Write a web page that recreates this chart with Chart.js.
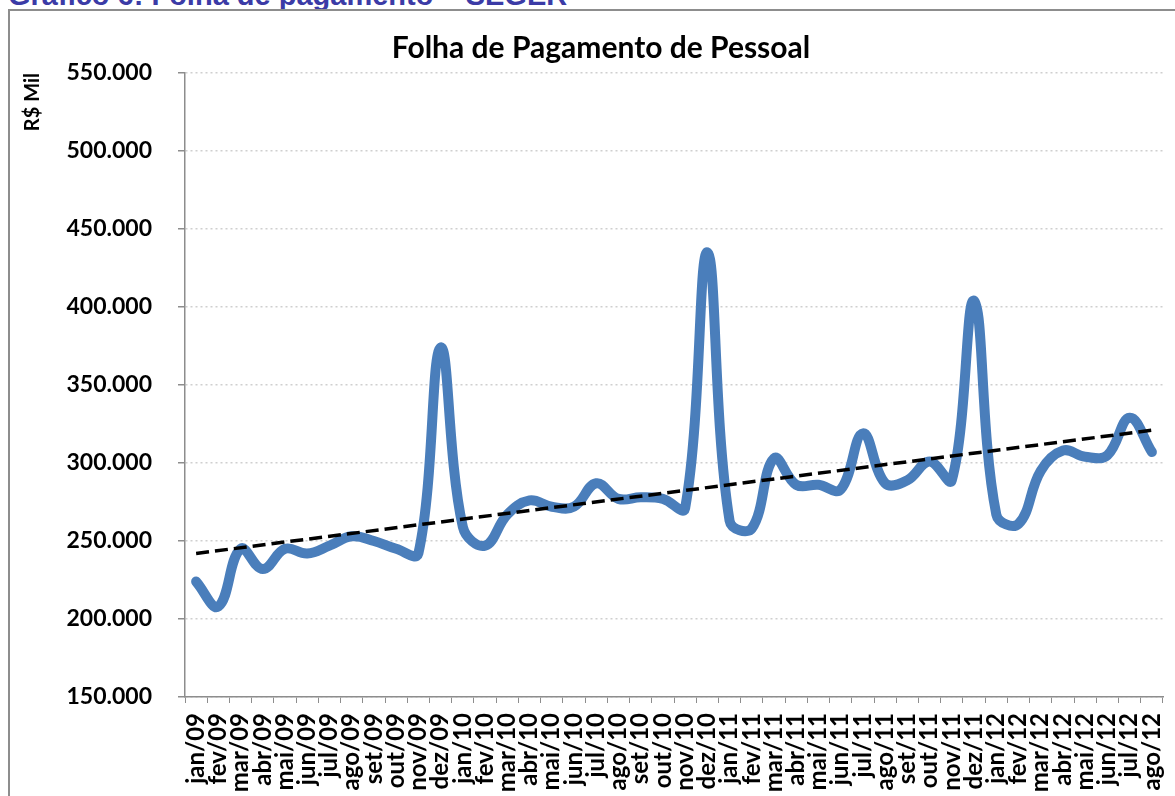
<!DOCTYPE html>
<html lang="pt-BR">
<head>
<meta charset="utf-8">
<title>Folha de Pagamento de Pessoal</title>
<script src="https://cdn.jsdelivr.net/npm/chart.js@4.4.1/dist/chart.umd.min.js"></script>
<style>
    html, body { margin: 0; padding: 0; background: #fff; overflow: hidden; }
    #caption {
        position: absolute; left: 8px; top: -19px;
        font: bold 29px "Liberation Sans", Arial, sans-serif;
        line-height: 28px; color: #3b3ba6; white-space: nowrap;
    }
    #frame {
        position: absolute; left: 8px; top: 9px;
        width: 1220px; height: 840px;
        border: 2px solid #8d8d8d;
    }
    #wrap { position: absolute; left: 0; top: 0; width: 1175px; height: 796px; }
</style>
</head>
<body>
<div id="caption">Gráfico 6: Folha de pagamento – SEGER</div>
<div id="frame"></div>
<div id="wrap"><canvas id="folhaChart" width="1175" height="796"></canvas></div>

<script>
// meses (jan/09 .. ago/12)
const meses = [
    'jan/09', 'fev/09', 'mar/09', 'abr/09', 'mai/09', 'jun/09', 'jul/09', 'ago/09', 'set/09', 'out/09', 'nov/09', 'dez/09',
    'jan/10', 'fev/10', 'mar/10', 'abr/10', 'mai/10', 'jun/10', 'jul/10', 'ago/10', 'set/10', 'out/10', 'nov/10', 'dez/10',
    'jan/11', 'fev/11', 'mar/11', 'abr/11', 'mai/11', 'jun/11', 'jul/11', 'ago/11', 'set/11', 'out/11', 'nov/11', 'dez/11',
    'jan/12', 'fev/12', 'mar/12', 'abr/12', 'mai/12', 'jun/12', 'jul/12', 'ago/12'
];

// folha de pagamento, R$ mil
const folha = [
    224000, 208000, 245000, 232000, 245000, 242000, 247000, 253000, 250000, 245000, 242000, 374000,
    259000, 247000, 267000, 276000, 272000, 272000, 287000, 277000, 278000, 277000, 271000, 435000,
    263000, 258000, 303000, 286000, 286000, 283000, 319000, 287000, 289000, 301000, 289000, 404000,
    267000, 261000, 295000, 308000, 304000, 305000, 329000, 307000
];

// linha de tendencia: valor no primeiro e no ultimo mes
const tendencia = [242000, 321000];

// eixo Y
const yMin = 150000;
const yMax = 550000;
const yStep = 50000;

const FONT = 'Lato, "Open Sans", sans-serif';

const trendData = meses.map((m, i) => {
    if (i === 0) return tendencia[0];
    if (i === meses.length - 1) return tendencia[1];
    return null;
});

// titulo desenhado a mao (centrado na caixa do grafico original)
const titlePlugin = {
    id: 'tituloFolha',
    afterDraw(chart) {
        const ctx = chart.ctx;
        ctx.save();
        ctx.font = 'bold 30px ' + FONT;
        ctx.fillStyle = '#000';
        ctx.textAlign = 'center';
        ctx.textBaseline = 'middle';
        ctx.fillText('Folha de Pagamento de Pessoal', 601, 48);
        ctx.restore();
    }
};

new Chart(document.getElementById('folhaChart').getContext('2d'), {
    type: 'line',
    data: {
        labels: meses,
        datasets: [
            {
                label: 'Tendência',
                data: trendData,
                borderColor: '#000',
                borderWidth: 3.5,
                borderDash: [13, 6],
                pointRadius: 0,
                spanGaps: true,
                tension: 0,
                order: 0
            },
            {
                label: 'Folha de Pagamento',
                data: folha,
                borderColor: '#4a7ebb',
                borderWidth: 10,
                borderCapStyle: 'round',
                borderJoinStyle: 'round',
                pointRadius: 0,
                tension: 0.4,
                fill: false,
                order: 1
            }
        ]
    },
    options: {
        responsive: false,
        animation: false,
        layout: { padding: { top: 73, right: 12, left: 0, bottom: 0 } },
        plugins: {
            legend: { display: false },
            tooltip: { enabled: false },
            title: { display: false }
        },
        scales: {
            x: {
                offset: true,
                afterFit: (scale) => {
                    scale.height = 99;
                    scale.paddingLeft = 0;
                    scale.paddingRight = 0;
                },
                grid: {
                    offset: true,
                    drawOnChartArea: false,
                    drawTicks: true,
                    tickLength: 6,
                    tickColor: '#8d8d8d'
                },
                border: { color: '#8d8d8d', width: 1.5 },
                ticks: {
                    autoSkip: false,
                    maxRotation: 90,
                    minRotation: 90,
                    padding: 10,
                    color: '#000',
                    font: { family: FONT, size: 24, weight: 'bold' }
                }
            },
            y: {
                min: yMin,
                max: yMax,
                afterFit: (scale) => { scale.width = 185; },
                grid: {
                    color: '#cfcfcf',
                    lineWidth: 1.5,
                    tickLength: 7,
                    tickColor: '#8d8d8d',
                    tickBorderDash: []
                },
                border: { color: '#8d8d8d', width: 1.5, dash: [2, 3] },
                ticks: {
                    stepSize: yStep,
                    padding: 26,
                    color: '#000',
                    font: { family: FONT, size: 23, weight: 'bold' },
                    callback: (v) => (v / 1000).toFixed(0) + '.000'
                },
                title: {
                    display: true,
                    text: 'R$ Mil',
                    align: 'end',
                    color: '#000',
                    padding: { top: 21, bottom: 0 },
                    font: { family: FONT, size: 20, weight: 'bold', lineHeight: 1.2 }
                }
            }
        }
    },
    plugins: [titlePlugin]
});
</script>
</body>
</html>
